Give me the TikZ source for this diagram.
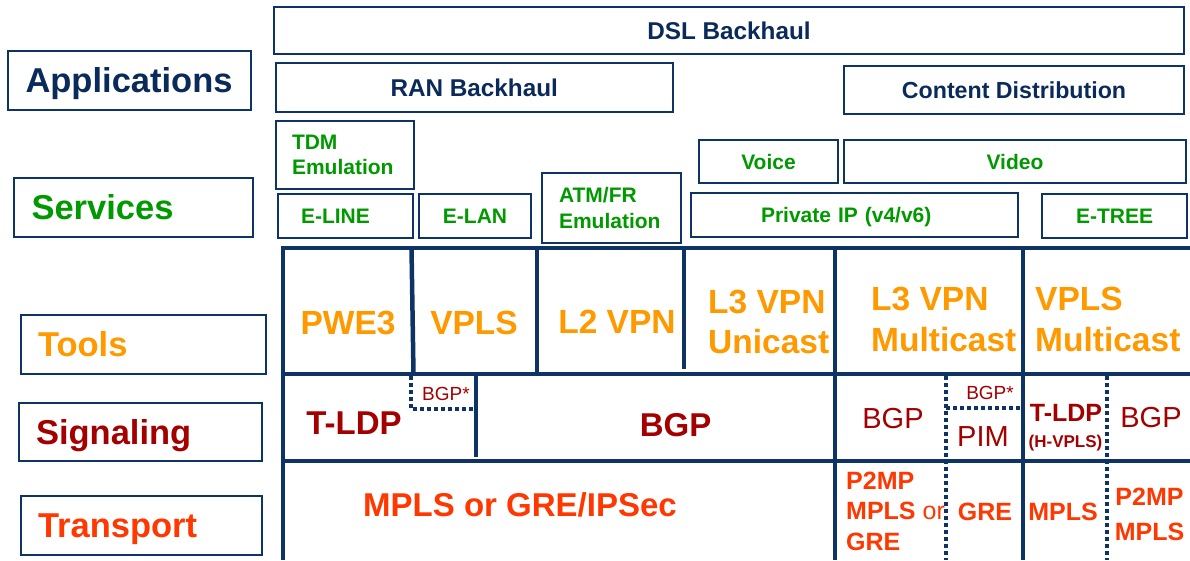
\documentclass[tikz,border=0pt]{standalone}
\usepackage{fontspec}
\setmainfont{Liberation Sans}
\definecolor{navy}{RGB}{14,52,102}
\definecolor{navytext}{RGB}{10,42,90}
\definecolor{sgreen}{RGB}{0,153,0}
\definecolor{torange}{RGB}{255,153,0}
\definecolor{sigred}{RGB}{163,0,0}
\definecolor{trred}{RGB}{255,55,0}
\begin{document}
\begin{tikzpicture}[x=1pt,y=-1pt,
 box/.style={draw=navy,line width=2pt,inner sep=0pt,outer sep=0pt},
 lbl/.style={box,font=\fontsize{34.5}{41}\selectfont\bfseries,text height=24.7pt,text depth=0pt,align=left,minimum height=59pt},
 hdr/.style={box,font=\fontsize{24.3}{29}\selectfont\bfseries,text=navytext,text height=17.4pt,text depth=0pt},
 svc/.style={box,font=\fontsize{21}{25}\selectfont\bfseries,text=sgreen,text height=15pt,text depth=0pt},
 svcm/.style={box,font=\fontsize{21}{25.5}\selectfont\bfseries,text=sgreen,align=left},
 tool/.style={inner sep=0pt,font=\fontsize{33.5}{40}\selectfont\bfseries,text=torange,text height=24pt,text depth=0pt},
 toolm/.style={inner sep=0pt,font=\fontsize{33.5}{40.5}\selectfont\bfseries,text=torange,align=left},
 sigb/.style={inner sep=0pt,font=\fontsize{33}{40}\selectfont\bfseries,text=sigred,text height=23.6pt,text depth=0pt},
 sigr/.style={inner sep=0pt,font=\fontsize{29}{34}\selectfont,text=sigred,text height=20.8pt,text depth=0pt},
 sigs/.style={inner sep=0pt,font=\fontsize{19}{22}\selectfont,text=sigred,text height=13.6pt,text depth=0pt},
 sigm/.style={inner sep=0pt,font=\fontsize{25}{30}\selectfont\bfseries,text=sigred,text height=17.9pt,text depth=0pt},
 sigt/.style={inner sep=0pt,font=\fontsize{17}{20}\selectfont\bfseries,text=sigred,text height=12.2pt,text depth=0pt},
 trb/.style={inner sep=0pt,font=\fontsize{33}{39}\selectfont\bfseries,text=trred,text height=23.6pt,text depth=0pt},
 trs/.style={inner sep=0pt,font=\fontsize{25}{30}\selectfont\bfseries,text=trred,text height=17.9pt,text depth=0pt},
 trm/.style={inner sep=0pt,font=\fontsize{25}{30.5}\selectfont\bfseries,text=trred},
 grid/.style={draw=navy,line width=4.5pt},
 dots/.style={draw=navy,line width=4pt,dash pattern=on 4pt off 3pt}
]
\useasboundingbox (0,0) rectangle (1190,560);

% left layer labels
\node[lbl,text=navytext,minimum width=243pt,text width=208pt,inner xsep=17.5pt] (apps) at (129.5,80.5) {Applications};
\node[lbl,text=sgreen,minimum width=239pt,text width=204pt,inner xsep=17.5pt] (svcs) at (133.5,207.5) {Services};
\node[lbl,text=torange,minimum width=245pt,text width=211pt,inner xsep=17pt] (tools) at (143.5,344.5) {Tools};
\node[lbl,text=sigred,minimum width=243pt,minimum height=58pt,text width=209pt,inner xsep=17pt] (sig) at (140.5,432) {Signaling};
\node[lbl,text=trred,minimum width=241pt,text width=207pt,inner xsep=17pt] (trans) at (141.5,525.5) {Transport};

% applications
\node[hdr,minimum width=910pt,minimum height=47pt] (dsl) at (729,30.5) {DSL Backhaul};
\node[hdr,minimum width=397.5pt,minimum height=49pt] (ran) at (474.25,87.5) {RAN Backhaul};
\node[hdr,font=\fontsize{23.2}{28}\selectfont\bfseries,minimum width=340pt,minimum height=48pt] (cdn) at (1014,90) {Content Distribution};

% services
\node[svcm,minimum width=138pt,minimum height=68pt,text width=106pt,inner xsep=16pt] (tdm) at (345,155) {TDM\\Emulation};
\node[svc,align=left,minimum width=135pt,minimum height=44pt,text width=89pt,inner xsep=23pt] (eline) at (345.5,216) {E-LINE};
\node[svc,minimum width=112pt,minimum height=44pt] (elan) at (475,216) {E-LAN};
\node[svcm,minimum width=139.5pt,minimum height=70pt,text width=104.5pt,inner xsep=17.5pt] (atm) at (611.25,208) {ATM/FR\\Emulation};
\node[svc,minimum width=139pt,minimum height=43pt] (voice) at (768.5,161.5) {Voice};
\node[svc,minimum width=342pt,minimum height=43pt] (video) at (1015,161.5) {Video};
\node[svc,align=left,minimum width=327pt,minimum height=44pt,text width=187pt,inner xsep=70pt] (pip) at (854.5,215) {Private IP (v4/v6)};
\node[svc,minimum width=145pt,minimum height=44pt] (etree) at (1114.5,216) {E-TREE};

% grid
\draw[grid,line join=miter] (283,560) -- (283,248) -- (1190,248);
\draw[grid] (283,374) -- (1190,374);
\draw[grid] (283,461) -- (1190,461);
\draw[grid] (411.5,248) -- (413.5,374);
\draw[grid] (537,248) -- (537,374);
\draw[grid] (684,248) -- (684,369);
\draw[grid] (835,248) -- (835,560);
\draw[grid] (1023,248) -- (1023,560);
\draw[grid] (476,374) -- (476,457);
\draw[dots] (411,376) -- (411,409) -- (473,409);
\draw[dots] (946,376) -- (946,560);
\draw[dots] (946,408) -- (1021,408);
\draw[dots] (1107,376) -- (1107,560);

% tools
\node[tool] (pwe) at (348,322.5) {PWE3};
\node[tool] (vplst) at (474,322.5) {VPLS};
\node[tool] (ltwo) at (617,321.5) {L2 VPN};
\node[toolm,anchor=west] (lthreeu) at (708,322) {L3 VPN\\Unicast};
\node[toolm,anchor=west] (lthreem) at (871,319.5) {L3 VPN\\Multicast};
\node[toolm,anchor=west] (vplsm) at (1035,319.5) {VPLS\\Multicast};

% signaling
\node[sigb] (tldp) at (354,422.5) {T-LDP};
\node[sigs] (bgpstar) at (446,394) {BGP*};
\node[sigb] (bgp) at (675.5,424.5) {BGP};
\node[sigr] (bgpl) at (893,418) {BGP};
\node[sigs] (bgpstarr) at (990,393) {BGP*};
\node[sigr] (pim) at (983,436) {PIM};
\node[sigm] (tldpr) at (1066,413) {T-LDP};
\node[sigt] (hvpls) at (1065.5,441) {(H-VPLS)};
\node[sigr] (bgpr) at (1151,417) {BGP};

% transport
\node[trb] (mplsgre) at (520,505) {MPLS or GRE/IPSec};
\node[trm,align=left,anchor=west] (ptmp) at (846,511) {P2MP\\MPLS {\mdseries or}\\GRE};
\node[trs] (gre) at (985,512) {GRE};
\node[trs] (mpls) at (1063,512) {MPLS};
\node[trm,align=center,font=\fontsize{25}{35}\selectfont\bfseries] (ptmpr) at (1149.5,514) {P2MP\\MPLS};
\end{tikzpicture}
\end{document}
